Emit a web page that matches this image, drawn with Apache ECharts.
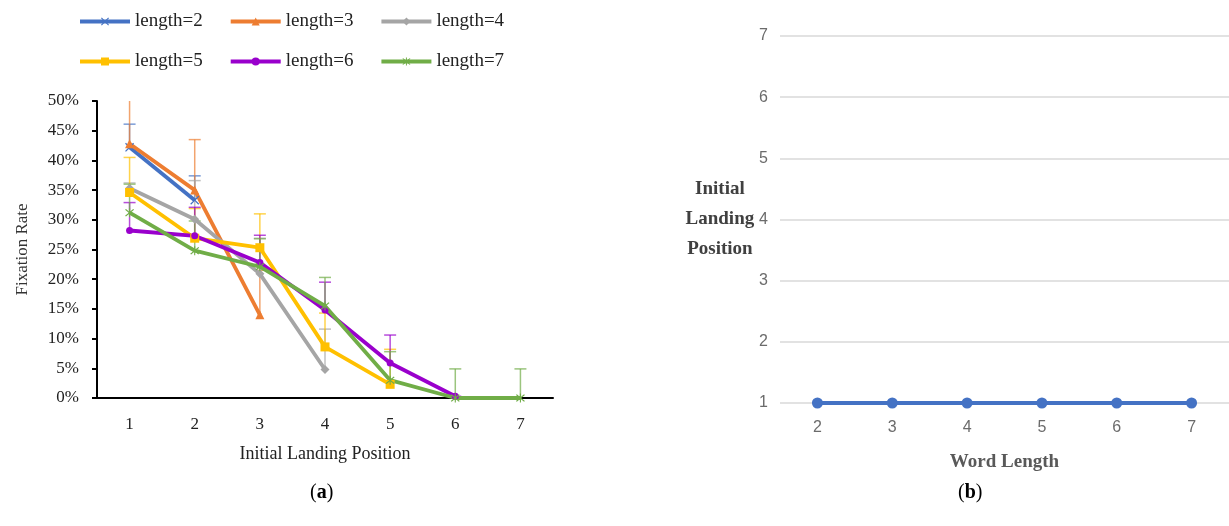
<!DOCTYPE html>
<html>
<head>
<meta charset="utf-8">
<style>
  html, body { margin: 0; padding: 0; background: #fff; }
  #main { width: 1229px; height: 526px; }
</style>
<script src="https://cdn.jsdelivr.net/npm/echarts@6/dist/echarts.min.js"></script>
</head>
<body>
<div id="main"></div>
<script>
// (a) fixation rate (%) by initial landing position
var positions = ['1', '2', '3', '4', '5', '6', '7'];
var seriesNames = ['length=2', 'length=3', 'length=4', 'length=5', 'length=6', 'length=7'];
var len2 = [42.2, 33.3];
var len3 = [42.8, 35.0, 14.0];
var len4 = [35.3, 30.1, 20.9, 4.8];
var len5 = [34.6, 26.9, 25.3, 8.6, 2.3];
var len6 = [28.2, 27.3, 22.8, 14.8, 5.9, 0.3];
var len7 = [31.2, 24.8, 22.1, 15.5, 3.0, 0, 0];
// plus error bars (%)
var err2 = [3.9, 4.1];
var err3 = [8.0, 8.5, 7.5];
var err4 = [0.9, 6.5, 6.0, 6.8];
var err5 = [5.9, 5.0, 5.7, 5.7, 5.9];
var err6 = [4.7, 4.8, 4.6, 4.7, 4.7, 0];
var err7 = [4.8, 5.0, 4.7, 4.8, 4.8, 4.9, 4.9];
var yTicks = [0, 50, 5];

// (b) initial landing position by word length
var wordLengths = ['2', '3', '4', '5', '6', '7'];
var landingPos = [1, 1, 1, 1, 1, 1];

var colors = ['#4472C4', '#ED7D31', '#A5A5A5', '#FFC000', '#9900CC', '#70AD47'];
var symbols = [
  'path://M0,1L1,0L5,4L9,0L10,1L6,5L10,9L9,10L5,6L1,10L0,9L4,5Z',
  'triangle', 'diamond', 'rect', 'circle',
  'path://M0,1L1,0L5,4L9,0L10,1L6,5L10,9L9,10L5,6L1,10L0,9L4,5Z M4.4,-1H5.6V11H4.4Z'
];
var values = [len2, len3, len4, len5, len6, len7];
var errors = [err2, err3, err4, err5, err6, err7];

var serif = 'Liberation Serif';
var narrow = '"Liberation Sans Narrow", "Liberation Sans", sans-serif';

var series = [];
values.forEach(function (vals, i) {
  // error bars first so the lines sit on top
  series.push({
    type: 'custom',
    name: 'err' + i,
    xAxisIndex: 0,
    yAxisIndex: 0,
    clip: true,
    z: 1,
    data: vals.map(function (v, k) { return [k, v, v + errors[i][k]]; }),
    renderItem: function (params, api) {
      var lo = api.coord([api.value(0), api.value(1)]);
      var hi = api.coord([api.value(0), api.value(2)]);
      var half = 6;
      return {
        type: 'group',
        children: [
          { type: 'line', shape: { x1: lo[0], y1: lo[1], x2: hi[0], y2: hi[1] },
            style: { stroke: colors[i], lineWidth: 1.5, opacity: 0.7 } },
          { type: 'line', shape: { x1: hi[0] - half, y1: hi[1], x2: hi[0] + half, y2: hi[1] },
            style: { stroke: colors[i], lineWidth: 1.5, opacity: 0.7 } }
        ]
      };
    }
  });
  series.push({
    type: 'line',
    name: seriesNames[i],
    xAxisIndex: 0,
    yAxisIndex: 0,
    z: 3,
    data: vals,
    symbol: symbols[i],
    symbolSize: i === 4 ? 7 : 9,
    showAllSymbol: true,
    lineStyle: { color: colors[i], width: 3.8 },
    itemStyle: { color: colors[i] }
  });
});

series.push({
  type: 'line',
  name: 'landing',
  xAxisIndex: 1,
  yAxisIndex: 1,
  data: landingPos,
  symbol: 'circle',
  symbolSize: 11,
  lineStyle: { color: '#4472C4', width: 4 },
  itemStyle: { color: '#4472C4' }
});

var legendText = { fontFamily: serif, fontSize: 19, color: '#222' };

var chart = echarts.init(document.getElementById('main'));
chart.setOption({
  animation: false,
  backgroundColor: '#fff',
  legend: [
    {
      data: seriesNames.slice(0, 3),
      left: 73, top: 7,
      itemWidth: 50, itemHeight: 10, itemGap: 26,
      lineStyle: { width: 4 },
      textStyle: legendText
    },
    {
      data: seriesNames.slice(3),
      left: 73, top: 47,
      itemWidth: 50, itemHeight: 10, itemGap: 26,
      lineStyle: { width: 4 },
      textStyle: legendText
    }
  ],
  grid: [
    { left: 97, right: 676, top: 101, bottom: 128 },
    { left: 780, right: -10, top: 36, bottom: 123 }
  ],
  xAxis: [
    {
      type: 'category',
      gridIndex: 0,
      data: positions,
      boundaryGap: true,
      axisLine: { lineStyle: { color: '#000', width: 2 } },
      axisTick: { inside: true, length: 5, lineStyle: { color: '#000', width: 2 } },
      axisLabel: { color: '#222', fontFamily: serif, fontSize: 17, margin: 18 },
      name: 'Initial Landing Position',
      nameLocation: 'middle',
      nameGap: 47,
      nameTextStyle: { color: '#222', fontFamily: serif, fontSize: 18 }
    },
    {
      type: 'category',
      gridIndex: 1,
      data: wordLengths,
      boundaryGap: true,
      axisLine: { show: false },
      axisTick: { show: false },
      axisLabel: { color: '#6b6b6b', fontFamily: narrow, fontSize: 16, margin: 17 },
      name: 'Word Length',
      nameLocation: 'middle',
      nameGap: 50,
      nameTextStyle: { color: '#595959', fontFamily: serif, fontSize: 19, fontWeight: 'bold' }
    }
  ],
  yAxis: [
    {
      type: 'value',
      gridIndex: 0,
      min: yTicks[0], max: yTicks[1], interval: yTicks[2],
      axisLine: { show: true, lineStyle: { color: '#000', width: 2 } },
      axisTick: { show: true, length: 5, lineStyle: { color: '#000', width: 2 } },
      splitLine: { show: false },
      axisLabel: { color: '#222', fontFamily: serif, fontSize: 17, margin: 18, formatter: '{value}%' },
      name: 'Fixation Rate',
      nameLocation: 'middle',
      nameGap: 66,
      nameTextStyle: { color: '#333', fontFamily: serif, fontSize: 17 }
    },
    {
      type: 'value',
      gridIndex: 1,
      min: 1, max: 7, interval: 1,
      axisLine: { show: false },
      axisTick: { show: false },
      splitLine: { lineStyle: { color: '#d9d9d9', width: 1.5 } },
      axisLabel: { color: '#6b6b6b', fontFamily: narrow, fontSize: 16, margin: 12 },
      name: 'Initial\nLanding\nPosition',
      nameLocation: 'middle',
      nameRotate: 0,
      nameGap: 56,
      nameTextStyle: { color: '#404040', fontFamily: serif, fontSize: 19, fontWeight: 'bold',
                       align: 'center', lineHeight: 30, padding: [0, 0, 6, 0] }
    }
  ],
  graphic: [
    {
      type: 'text', left: 310, top: 483,
      style: { text: '({b|a})', font: '20px "Liberation Serif"', fill: '#000',
               rich: { b: { fontWeight: 'bold', fontFamily: serif, fontSize: 20 } } }
    },
    {
      type: 'text', left: 958, top: 483,
      style: { text: '({b|b})', font: '20px "Liberation Serif"', fill: '#000',
               rich: { b: { fontWeight: 'bold', fontFamily: serif, fontSize: 20 } } }
    }
  ],
  series: series
});
</script>
</body>
</html>
